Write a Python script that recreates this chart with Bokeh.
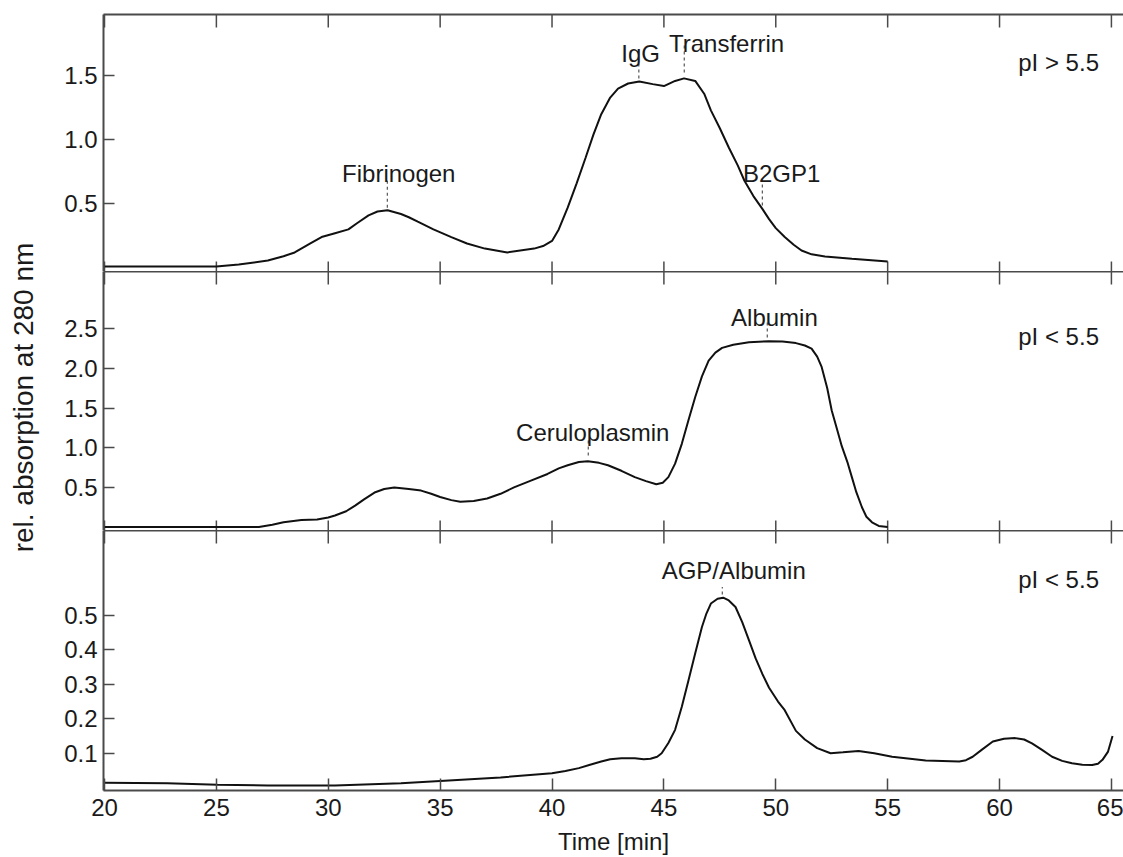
import math
from bokeh.plotting import figure
from bokeh.models import LinearAxis, FixedTicker, Range1d
from bokeh.layouts import column, row
from bokeh.embed import file_html
from bokeh.resources import INLINE
from bokeh.core.properties import value

FONT = "Liberation Sans"
AX = "#4a4a4a"
TXT = "#1a1a1a"
FS = "24px"

# ---------------- data ----------------
x_ticks = [20, 25, 30, 35, 40, 45, 50, 55, 60, 65]
x_tick_labels = ["20", "25", "30", "35", "40", "45", "50", "55", "60", "65"]
x_title = "Time [min]"
y_title = "rel. absorption at 280 nm"

# panel 1 : pI > 5.5
t1 = [20.0, 22.5, 25.0, 26.0, 27.3, 28.0, 28.5, 29.2, 29.7, 30.3, 30.9, 31.3, 31.8, 32.2,
      32.65, 33.25, 33.6, 34.0, 34.7, 35.5, 36.2, 37.0, 38.0, 39.2, 39.6, 40.0, 40.3, 40.7,
      41.1, 41.5, 41.85, 42.2, 42.6, 42.95, 43.4, 43.9, 44.5, 45.0, 45.5, 45.9, 46.4, 46.8,
      47.1, 47.5, 47.9, 48.3, 48.6, 49.0, 49.4, 49.7, 50.0, 50.4, 50.8, 51.15, 51.6, 52.2,
      53.4, 55.0]
a1 = [0.01, 0.01, 0.01, 0.025, 0.057, 0.09, 0.12, 0.19, 0.24, 0.27, 0.30, 0.35, 0.41, 0.44,
      0.45, 0.42, 0.395, 0.36, 0.30, 0.24, 0.19, 0.15, 0.12, 0.15, 0.17, 0.21, 0.30, 0.47,
      0.66, 0.86, 1.04, 1.20, 1.33, 1.40, 1.44, 1.455, 1.435, 1.42, 1.46, 1.48, 1.46, 1.36,
      1.23, 1.09, 0.94, 0.80, 0.68, 0.56, 0.46, 0.38, 0.31, 0.24, 0.18, 0.135, 0.105, 0.088,
      0.07, 0.05]
y1_ticks = [0.5, 1.0, 1.5]
y1_tick_labels = ["0.5", "1.0", "1.5"]

# panel 2 : pI < 5.5
t2 = [20.0, 26.9, 27.5, 28.0, 28.8, 29.5, 30.0, 30.3, 30.8, 31.2, 31.6, 32.1, 32.5, 32.95,
      33.6, 34.15, 34.6, 35.0, 35.5, 35.9, 36.5, 37.1, 37.7, 38.3, 39.0, 39.8, 40.3, 40.7,
      41.2, 41.6, 42.1, 42.5, 43.1, 43.7, 44.2, 44.66, 44.95, 45.2, 45.5, 45.8, 46.1, 46.4,
      46.7, 47.0, 47.3, 47.6, 48.1, 48.8, 49.7, 50.3, 50.9, 51.3, 51.6, 51.85, 52.05, 52.3,
      52.5, 52.75, 52.95, 53.2, 53.4, 53.6, 53.85, 54.05, 54.3, 54.6, 55.0]
a2 = [0.0, 0.0, 0.03, 0.06, 0.09, 0.095, 0.12, 0.146, 0.20, 0.27, 0.35, 0.44, 0.48, 0.50,
      0.48, 0.46, 0.42, 0.38, 0.34, 0.32, 0.33, 0.36, 0.42, 0.50, 0.58, 0.67, 0.74, 0.78,
      0.82, 0.83, 0.81, 0.78, 0.71, 0.63, 0.58, 0.54, 0.56, 0.63, 0.80, 1.05, 1.35, 1.64,
      1.90, 2.10, 2.20, 2.26, 2.30, 2.33, 2.345, 2.34, 2.32, 2.29, 2.25, 2.15, 2.02, 1.75,
      1.47, 1.22, 1.02, 0.82, 0.63, 0.44, 0.25, 0.13, 0.06, 0.015, 0.0]
y2_ticks = [0.5, 1.0, 1.5, 2.0, 2.5]
y2_tick_labels = ["0.5", "1.0", "1.5", "2.0", "2.5"]

# panel 3 : pI < 5.5
t3 = [20.0, 22.8, 25.05, 27.3, 30.3, 33.25, 35.0, 37.7, 40.0, 40.6, 41.2, 41.7, 42.2, 42.6,
      43.1, 43.7, 44.1, 44.4, 44.7, 44.9, 45.2, 45.5, 45.8, 46.1, 46.4, 46.7, 46.9, 47.1,
      47.4, 47.65, 47.9, 48.2, 48.5, 48.8, 49.1, 49.4, 49.7, 50.1, 50.4, 50.9, 51.3, 51.85,
      52.45, 53.0, 53.7, 54.4, 55.2, 56.7, 58.2, 58.5, 58.8, 59.2, 59.7, 60.2, 60.7, 61.1,
      61.45, 61.9, 62.35, 62.8, 63.24, 63.7, 64.14, 64.4, 64.6, 64.85, 65.05]
a3 = [0.0145, 0.0135, 0.0087, 0.0067, 0.0067, 0.0135, 0.020, 0.030, 0.0425, 0.049, 0.057,
      0.067, 0.076, 0.083, 0.086, 0.086, 0.083, 0.084, 0.09, 0.10, 0.13, 0.168, 0.235, 0.312,
      0.39, 0.466, 0.505, 0.534, 0.548, 0.551, 0.543, 0.524, 0.48, 0.428, 0.375, 0.33, 0.29,
      0.25, 0.225, 0.165, 0.14, 0.115, 0.10, 0.103, 0.107, 0.10, 0.09, 0.079, 0.076, 0.08,
      0.09, 0.11, 0.134, 0.142, 0.144, 0.14, 0.129, 0.11, 0.09, 0.078, 0.071, 0.067, 0.066,
      0.07, 0.081, 0.105, 0.150]
y3_ticks = [0.1, 0.2, 0.3, 0.4, 0.5]
y3_tick_labels = ["0.1", "0.2", "0.3", "0.4", "0.5"]

# peak annotations: label, label x, label y (baseline), marker x, marker y0, marker y1
ann1_text = ["Fibrinogen", "IgG", "Transferrin", "B2GP1"]
ann1_tx = [33.15, 43.96, 47.80, 50.26]
ann1_ty = [0.737, 1.674, 1.752, 0.737]
ann1_mx = [32.64, 43.88, 45.91, 49.40]
ann1_y0 = [0.47, 1.478, 1.526, 0.487]
ann1_y1 = [0.68, 1.595, 1.737, 0.68]

ann2_text = ["Ceruloplasmin", "Albumin"]
ann2_tx = [41.82, 49.94]
ann2_ty = [1.193, 2.64]
ann2_mx = [41.62, 49.62]
ann2_y0 = [0.903, 2.39]
ann2_y1 = [1.117, 2.605]

ann3_text = ["AGP/Albumin"]
ann3_tx = [48.12]
ann3_ty = [0.63]
ann3_mx = [47.61]
ann3_y0 = [0.560]
ann3_y1 = [0.582]

panel_tags = ["pI > 5.5", "pI < 5.5", "pI < 5.5"]
tag_x = 62.64
tag_y = [1.604, 2.40, 0.604]

X_RANGE = (19.955, 65.54)
Y_RANGES = [(-0.029, 1.979), (-0.043, 3.223), (-0.0078, 0.7457)]

LABEL_W = 40
PANEL_W = 1123 - LABEL_W
LEFT = 103 - LABEL_W


def line_axis():
    # plain frame edge: an axis with no ticks and no labels
    ax = LinearAxis(ticker=FixedTicker(ticks=[]))
    ax.axis_line_color = AX
    ax.axis_line_width = 2
    ax.major_tick_in = 0
    ax.major_tick_out = 0
    ax.minor_tick_in = 0
    ax.minor_tick_out = 0
    ax.major_label_standoff = 0
    return ax


def y_axis(ticks, labels):
    ax = LinearAxis(ticker=FixedTicker(ticks=ticks))
    ax.major_label_overrides = {t: l for t, l in zip(ticks, labels)}
    ax.major_tick_in = 11
    ax.major_tick_out = 0
    ax.minor_tick_in = 0
    ax.minor_tick_out = 0
    ax.major_tick_line_color = AX
    ax.major_tick_line_width = 1.5
    ax.axis_line_color = AX
    ax.axis_line_width = 2
    ax.major_label_text_font = FONT
    ax.major_label_text_font_size = FS
    ax.major_label_text_color = TXT
    ax.major_label_standoff = 6
    return ax


def panel(height, top, bottom, yr, t, a, yt, ytl, ann, tag, ty, bottom_axis=False,
          top_tick=13, bottom_tick=10):
    p = figure(width=PANEL_W, height=height, output_backend="svg", toolbar_location=None,
               x_range=Range1d(*X_RANGE), y_range=Range1d(*yr),
               x_axis_location=None, y_axis_location=None,
               min_border_left=LEFT, min_border_right=0,
               min_border_top=top, min_border_bottom=bottom,
               outline_line_color=None, background_fill_color="white",
               border_fill_color="white")
    p.xgrid.visible = False
    p.ygrid.visible = False
    p.add_layout(line_axis(), "above")
    if bottom_axis:
        bx = LinearAxis(ticker=FixedTicker(ticks=x_ticks))
        bx.major_label_overrides = {tk: l for tk, l in zip(x_ticks, x_tick_labels)}
        bx.major_tick_in = 12
        bx.major_tick_out = 0
        bx.minor_tick_in = 0
        bx.minor_tick_out = 0
        bx.major_tick_line_color = AX
        bx.major_tick_line_width = 1.5
        bx.axis_line_color = AX
        bx.axis_line_width = 2
        bx.major_label_text_font = FONT
        bx.major_label_text_font_size = FS
        bx.major_label_text_color = TXT
        bx.major_label_standoff = 8
        bx.axis_label = x_title
        bx.axis_label_text_font = FONT
        bx.axis_label_text_font_size = FS
        bx.axis_label_text_font_style = "normal"
        bx.axis_label_text_color = TXT
        bx.axis_label_standoff = 9
        p.add_layout(bx, "below")
    p.add_layout(y_axis(yt, ytl), "left")

    # inward x tick marks at the top edge (and bottom edge for the upper panels)
    p.scatter(x=x_ticks, y=[yr[1]] * len(x_ticks), marker="dash", angle=math.pi / 2,
              size=2 * top_tick, line_color=AX, line_width=1.5)
    if not bottom_axis:
        p.scatter(x=x_ticks, y=[yr[0]] * len(x_ticks), marker="dash", angle=math.pi / 2,
                  size=2 * bottom_tick, line_color=AX, line_width=1.5)

    p.line(t, a, line_color="#111111", line_width=2)

    txt, tx, tyy, mx, y0, y1 = ann
    p.segment(x0=mx, y0=y0, x1=mx, y1=y1, line_color="#555555", line_width=1.2,
              line_dash="3 3")
    p.text(x=tx, y=tyy, text=txt, text_font=value(FONT), text_font_size=FS,
           text_align="center", text_baseline="alphabetic", text_color=TXT)
    p.text(x=[tag_x], y=[ty], text=[tag], text_font=value(FONT), text_font_size=FS,
           text_align="center", text_baseline="alphabetic", text_color=TXT)
    return p


p1 = panel(271, 14, 0, Y_RANGES[0], t1, a1, y1_ticks, y1_tick_labels,
           (ann1_text, ann1_tx, ann1_ty, ann1_mx, ann1_y0, ann1_y1),
           panel_tags[0], tag_y[0], top_tick=13)
p2 = panel(259, 0, 0, Y_RANGES[1], t2, a2, y2_ticks, y2_tick_labels,
           (ann2_text, ann2_tx, ann2_ty, ann2_mx, ann2_y0, ann2_y1),
           panel_tags[1], tag_y[1], top_tick=13)
p3 = panel(327, 0, 66, Y_RANGES[2], t3, a3, y3_ticks, y3_tick_labels,
           (ann3_text, ann3_tx, ann3_ty, ann3_mx, ann3_y0, ann3_y1),
           panel_tags[2], tag_y[2], bottom_axis=True, top_tick=13)

# shared y-axis title in its own narrow strip (screen-pixel coordinates)
lab = figure(width=LABEL_W, height=857, output_backend="svg", toolbar_location=None,
             x_range=Range1d(0, LABEL_W), y_range=Range1d(857, 0),
             x_axis_location=None, y_axis_location=None,
             min_border=0, outline_line_color=None,
             background_fill_color="white", border_fill_color="white")
lab.xgrid.visible = False
lab.ygrid.visible = False
lab.text(x=[23], y=[397], text=[y_title], angle=math.pi / 2, text_font=value(FONT),
         text_font_size="28px", text_align="center", text_baseline="middle",
         text_color=TXT)

layout = row(lab, column(p1, p2, p3, spacing=0), spacing=0)
open("out.html", "w").write(file_html(layout, INLINE))
